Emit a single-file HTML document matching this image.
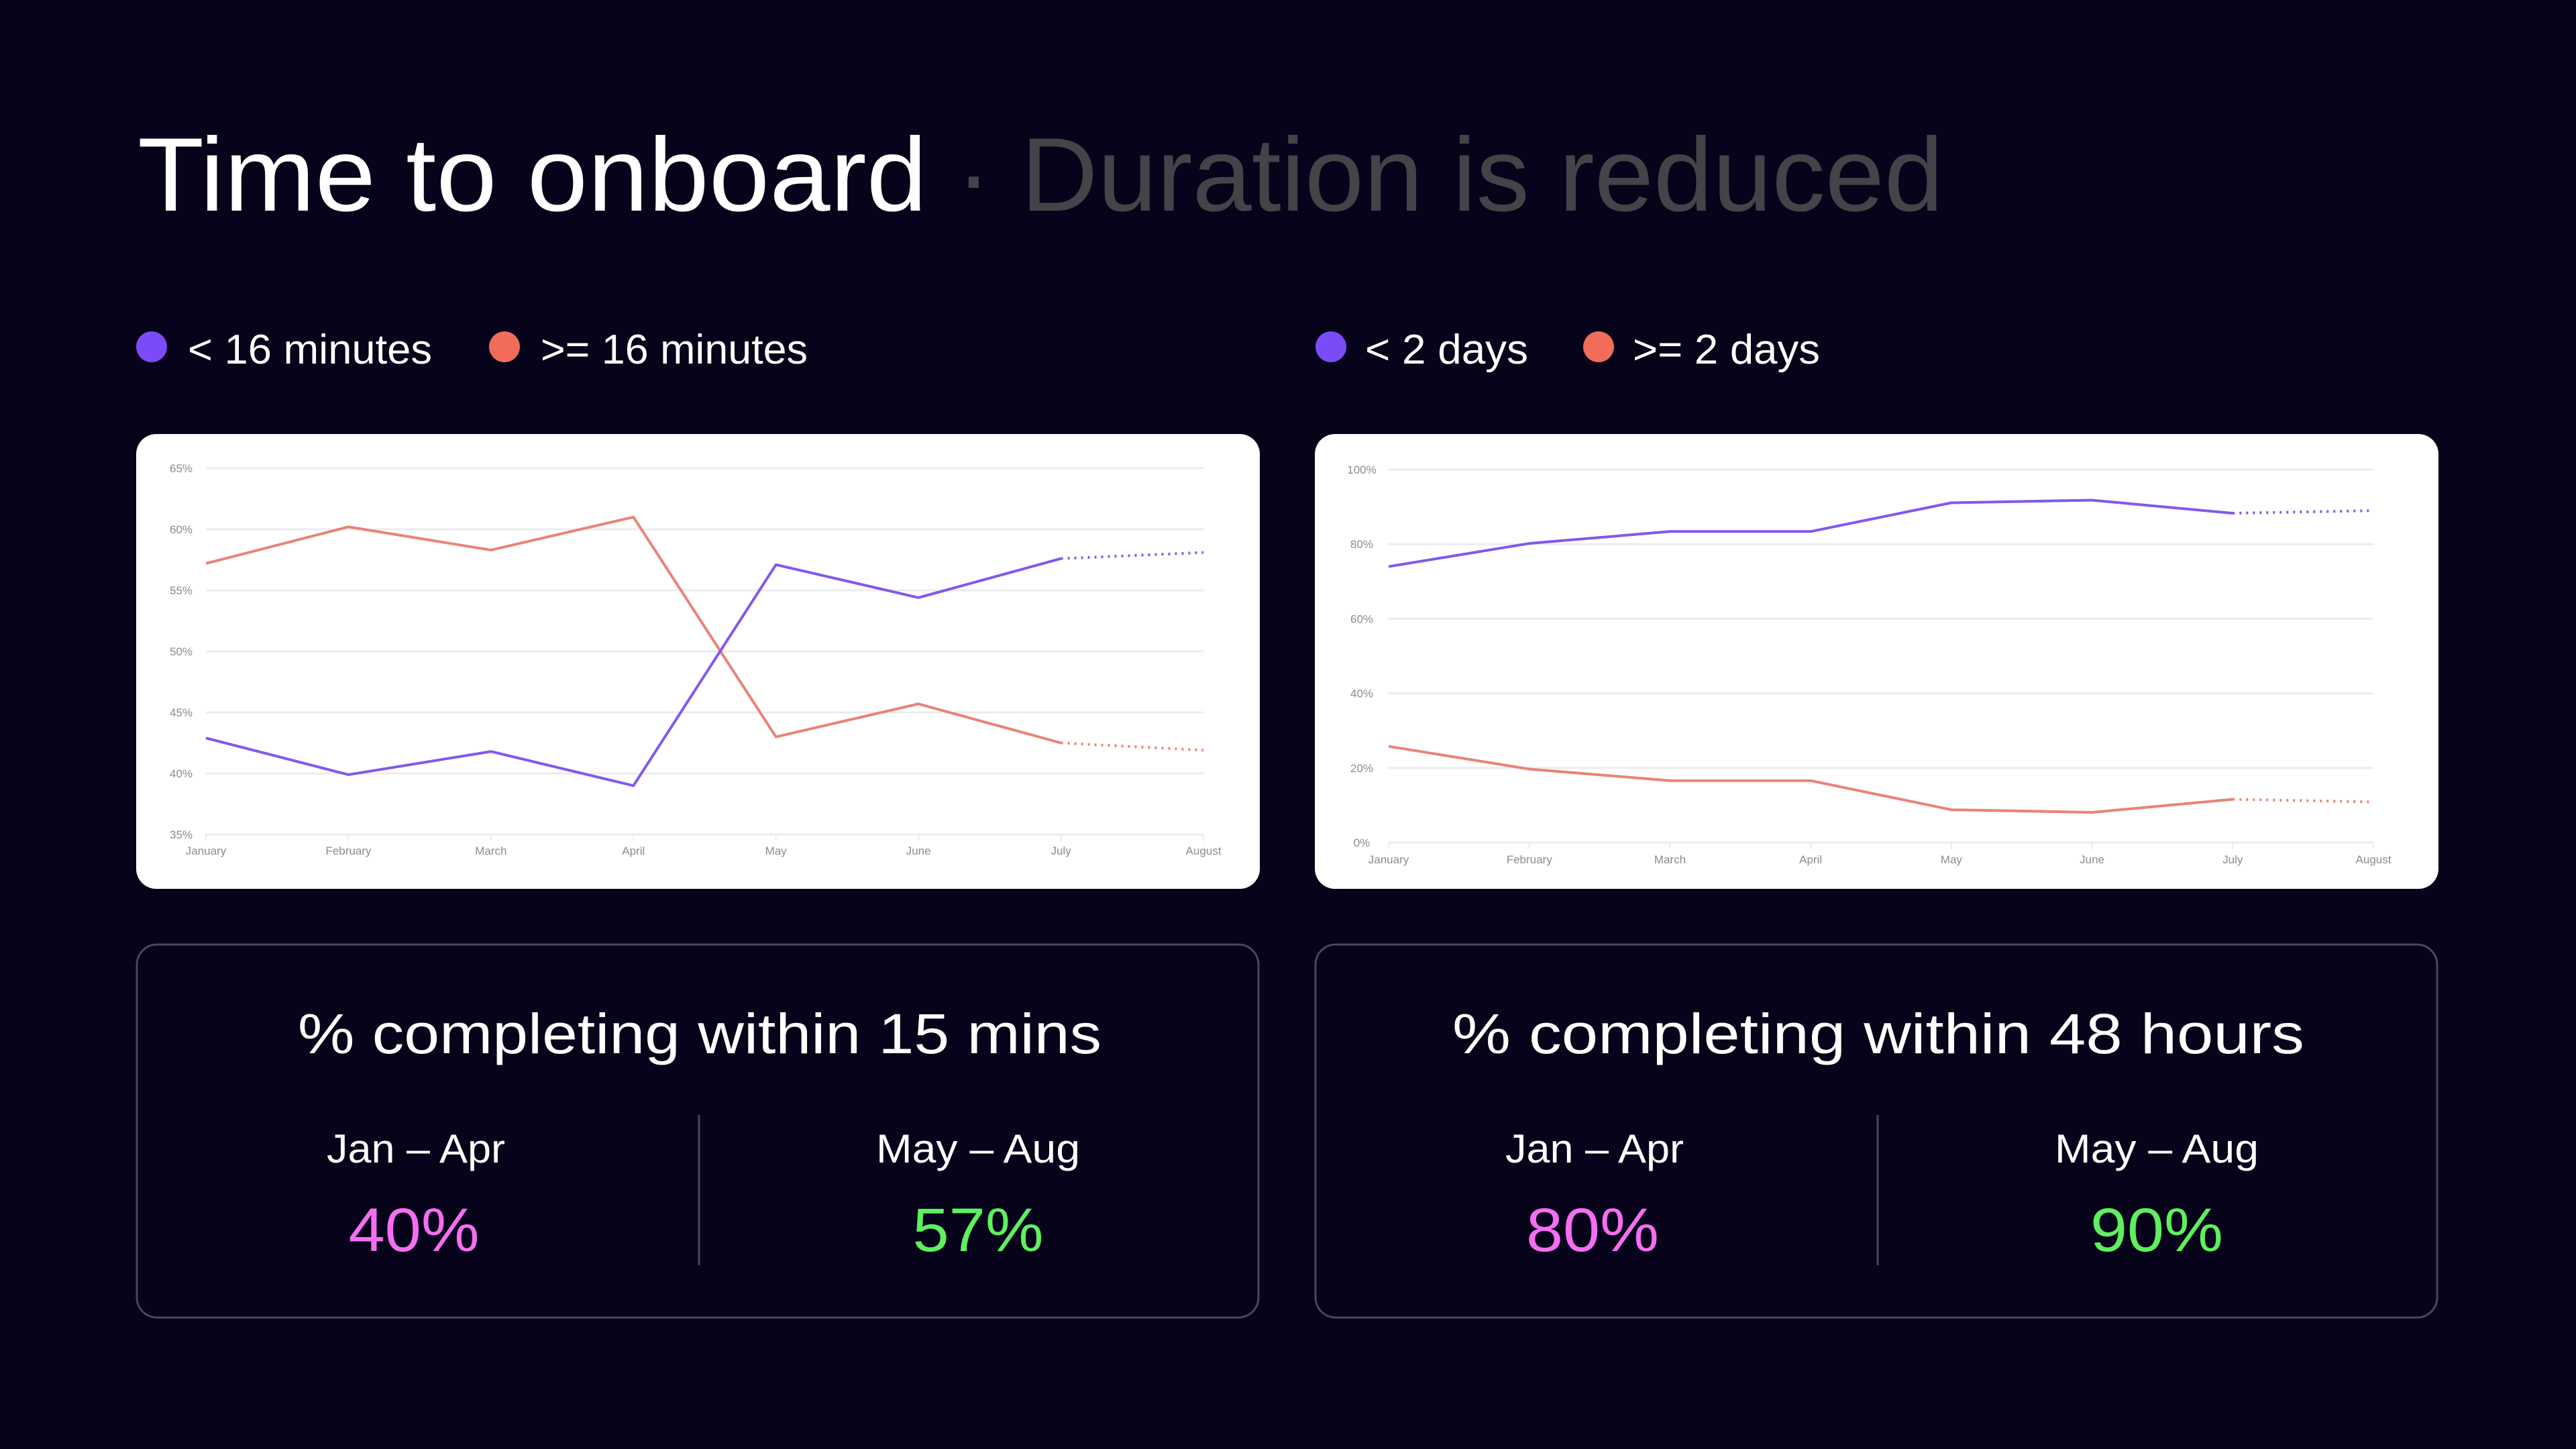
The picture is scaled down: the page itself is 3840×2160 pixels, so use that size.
<!DOCTYPE html>
<html><head><meta charset="utf-8"><style>
html,body{margin:0;padding:0;background:#06031a;width:3840px;height:2160px;overflow:hidden}
svg{display:block}
text{font-family:"Liberation Sans",sans-serif}
</style></head><body>
<svg id="page" width="3840" height="2160" viewBox="0 0 3840 2160" xmlns="http://www.w3.org/2000/svg">
<rect width="3840" height="2160" fill="#06031a"/>
<text x="205" y="314" font-size="156" fill="#ffffff" textLength="1177" lengthAdjust="spacingAndGlyphs">Time to onboard</text>
<text x="1425" y="314" font-size="156" fill="#444448" textLength="1472" lengthAdjust="spacingAndGlyphs">· Duration is reduced</text>

<circle cx="226" cy="517" r="23" fill="#7a4cf7"/>
<text x="280" y="542" font-size="62" fill="#fff" textLength="364" lengthAdjust="spacingAndGlyphs">&lt; 16 minutes</text>
<circle cx="752" cy="517" r="23" fill="#f26c5a"/>
<text x="806" y="542" font-size="62" fill="#fff" textLength="398" lengthAdjust="spacingAndGlyphs">&gt;= 16 minutes</text>
<circle cx="1984" cy="517" r="23" fill="#7a4cf7"/>
<text x="2035" y="542" font-size="62" fill="#fff" textLength="243" lengthAdjust="spacingAndGlyphs">&lt; 2 days</text>
<circle cx="2383" cy="517" r="23" fill="#f26c5a"/>
<text x="2434" y="542" font-size="62" fill="#fff" textLength="279" lengthAdjust="spacingAndGlyphs">&gt;= 2 days</text>

<rect x="203" y="647" width="1675" height="678" rx="30" fill="#ffffff"/>
<rect x="1960" y="647" width="1675" height="678" rx="30" fill="#ffffff"/>
<g id="chart1"></g>
<g id="chart2"></g>

<g>
<rect x="204" y="1408" width="1672" height="556" rx="30" fill="none" stroke="#4a4855" stroke-width="3"/>
<text x="1043" y="1570" font-size="84" fill="#fff" text-anchor="middle" textLength="1198" lengthAdjust="spacingAndGlyphs">% completing within 15 mins</text>
<line x1="1042" y1="1662" x2="1042" y2="1886" stroke="#4a4855" stroke-width="3"/>
<text x="620" y="1733" font-size="60" fill="#fff" text-anchor="middle" textLength="266" lengthAdjust="spacingAndGlyphs">Jan – Apr</text>
<text x="1458" y="1733" font-size="60" fill="#fff" text-anchor="middle" textLength="304" lengthAdjust="spacingAndGlyphs">May – Aug</text>
<text x="617" y="1865" font-size="92" fill="#f56ef0" text-anchor="middle" textLength="195" lengthAdjust="spacingAndGlyphs">40%</text>
<text x="1458" y="1865" font-size="92" fill="#5ef05e" text-anchor="middle" textLength="195" lengthAdjust="spacingAndGlyphs">57%</text>
</g>
<g>
<rect x="1961" y="1408" width="1672" height="556" rx="30" fill="none" stroke="#4a4855" stroke-width="3"/>
<text x="2800" y="1570" font-size="84" fill="#fff" text-anchor="middle" textLength="1270" lengthAdjust="spacingAndGlyphs">% completing within 48 hours</text>
<line x1="2799" y1="1662" x2="2799" y2="1886" stroke="#4a4855" stroke-width="3"/>
<text x="2377" y="1733" font-size="60" fill="#fff" text-anchor="middle" textLength="266" lengthAdjust="spacingAndGlyphs">Jan – Apr</text>
<text x="3215" y="1733" font-size="60" fill="#fff" text-anchor="middle" textLength="304" lengthAdjust="spacingAndGlyphs">May – Aug</text>
<text x="2374" y="1865" font-size="92" fill="#f56ef0" text-anchor="middle" textLength="198" lengthAdjust="spacingAndGlyphs">80%</text>
<text x="3215" y="1865" font-size="92" fill="#5ef05e" text-anchor="middle" textLength="198" lengthAdjust="spacingAndGlyphs">90%</text>
</g>
</svg>
<script>
const months = ["January","February","March","April","May","June","July","August"];
const minTicks = [35,40,45,50,55,60,65];
const minUnder16 = [42.9,39.9,41.8,39.0,57.1,54.4,57.6,58.1];
const minOver16 = [57.2,60.2,58.3,61.0,43.0,45.7,42.5,41.9];
const dayTicks = [0,20,40,60,80,100];
const dayUnder2 = [74.0,80.2,83.4,83.4,91.1,91.8,88.3,89.0];
const dayOver2 = [25.8,19.7,16.6,16.6,8.8,8.1,11.6,10.9];
const forecastFrom = 6;

const NS = "http://www.w3.org/2000/svg";
function mk(tag, attrs, parent){
  const e = document.createElementNS(NS, tag);
  for (const k in attrs) e.setAttribute(k, attrs[k]);
  parent.appendChild(e);
  return e;
}
function drawChart(g, cfg, ticks, series){
  const x0=cfg.x0,x1=cfg.x1,yTop=cfg.yTop,yBot=cfg.yBot;
  const lo=ticks[0], hi=ticks[ticks.length-1];
  const xs = i => x0 + (x1-x0)*i/(months.length-1);
  const ys = v => yBot - (yBot-yTop)*(v-lo)/(hi-lo);
  ticks.forEach(t=>{
    const l = mk("line",{x1:x0,x2:x1,y1:ys(t),y2:ys(t),stroke:"#ececf0","stroke-width":3},g);
    
    
    const tx = mk("text",{x:cfg.labelX,y:ys(t)+6,"font-size":17,fill:"#8a8a92","text-anchor":"middle"},g);
    tx.textContent = t+"%";
    
    
  });
  months.forEach((m,i)=>{
    const tk = mk("line",{x1:xs(i),x2:xs(i),y1:yBot,y2:yBot+10,stroke:"#ececf0","stroke-width":2},g);
    
    
    const tx = mk("text",{x:xs(i),y:cfg.xLabelY,"font-size":17,fill:"#8a8a92","text-anchor":"middle"},g);
    tx.textContent = m;
    
    
  });
  series.forEach(s=>{
    const solid = s.vals.slice(0,forecastFrom+1).map((v,i)=>xs(i)+","+ys(v)).join(" ");
    const p = mk("polyline",{points:solid,fill:"none",stroke:s.color,"stroke-width":s.w,"stroke-linejoin":"round"},g);
    
    
    const dash = s.vals.slice(forecastFrom).map((v,i)=>xs(i+forecastFrom)+","+ys(v)).join(" ");
    const d = mk("polyline",{points:dash,fill:"none",stroke:s.color,"stroke-width":4,"stroke-dasharray":"3 7"},g);
    
    
  });
}
drawChart(document.getElementById("chart1"),{x0:307,x1:1794,yTop:698,yBot:1244,labelX:270,xLabelY:1274},minTicks,[
  {vals:minOver16,color:"#ea8377",w:4,name:"over-16-minutes"},
  {vals:minUnder16,color:"#8358ee",w:4,name:"under-16-minutes"}]);
drawChart(document.getElementById("chart2"),{x0:2070,x1:3538,yTop:700,yBot:1256,labelX:2030,xLabelY:1287},dayTicks,[
  {vals:dayOver2,color:"#ea8377",w:4,name:"over-2-days"},
  {vals:dayUnder2,color:"#8358ee",w:4,name:"under-2-days"}]);
</script>
</body></html>
